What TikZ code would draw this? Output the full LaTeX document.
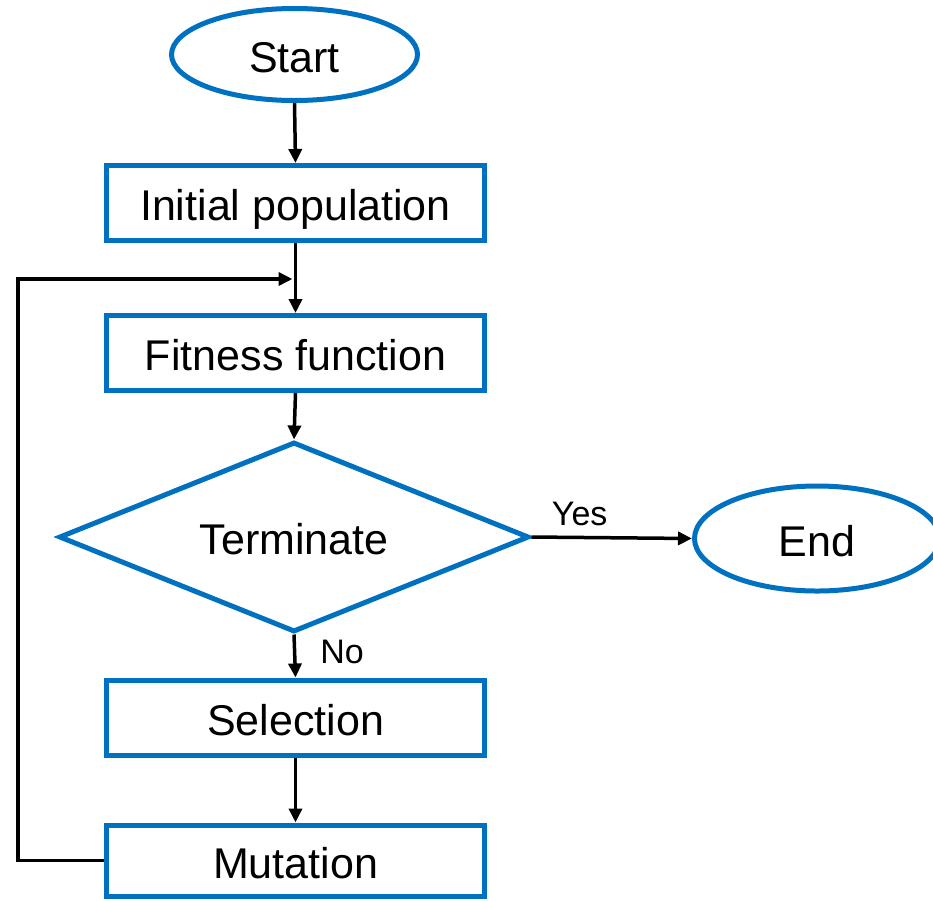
\documentclass[tikz,border=0pt]{standalone}
\usepackage{fontspec}
\setmainfont{Liberation Sans}
\usetikzlibrary{shapes.geometric,arrows.meta}
\definecolor{fcblue}{HTML}{0070C0}
\tikzset{
  base/.style={draw=fcblue, line width=5pt, inner sep=0pt, text=black,
    font=\fontsize{43}{50}\selectfont, text height=35pt, text depth=0pt},
  procbox/.style={base, rectangle, minimum width=378pt, minimum height=75pt},
  termin/.style={base, ellipse},
  decide/.style={base, diamond, shape aspect=2.474},
  arr/.style={draw=black, line width=3.5pt,
    -{Triangle[length=14pt,width=13pt]}},
  lbl/.style={font=\fontsize{34}{40}\selectfont, inner sep=0pt}
}
\begin{document}
\begin{tikzpicture}[x=1pt,y=-1pt]
\useasboundingbox (0,0) rectangle (933,900);
\node[termin, minimum width=246pt, minimum height=92pt] (start) at (294.5,54.5) {Start};
\node[procbox] (init) at (295.5,203) {Initial population};
\node[procbox] (fit) at (295.5,353) {Fitness function};
\node[decide, minimum width=470pt, minimum height=190pt] (term) at (294,537) {Terminate};
\node[termin, minimum width=245pt, minimum height=105pt] (end) at (817,538.5) {End};
\node[procbox] (sel) at (295.5,717.5) {Selection};
\node[procbox, minimum height=71pt] (mut) at (295.5,860.5) {Mutation};

\draw[arr] (start.south) -- (init.north);
\draw[arr] (init.south) -- (fit.north);
\draw[arr] (fit.south) -- (term.north);
\draw[arr] (term.south) -- (sel.north);
\draw[arr] (sel.south) -- (mut.north);
\draw[arr] (term.east) -- node[lbl, above=10pt, pos=0.3] (yes) {Yes} (end.west);
\node[lbl] (no) at (342,652) {No};

\coordinate (lcorner) at (18,279);
\coordinate (ljoin) at (292.5,279);
\draw[arr] (mut.west) -| (lcorner) -- (ljoin);
\end{tikzpicture}
\end{document}
